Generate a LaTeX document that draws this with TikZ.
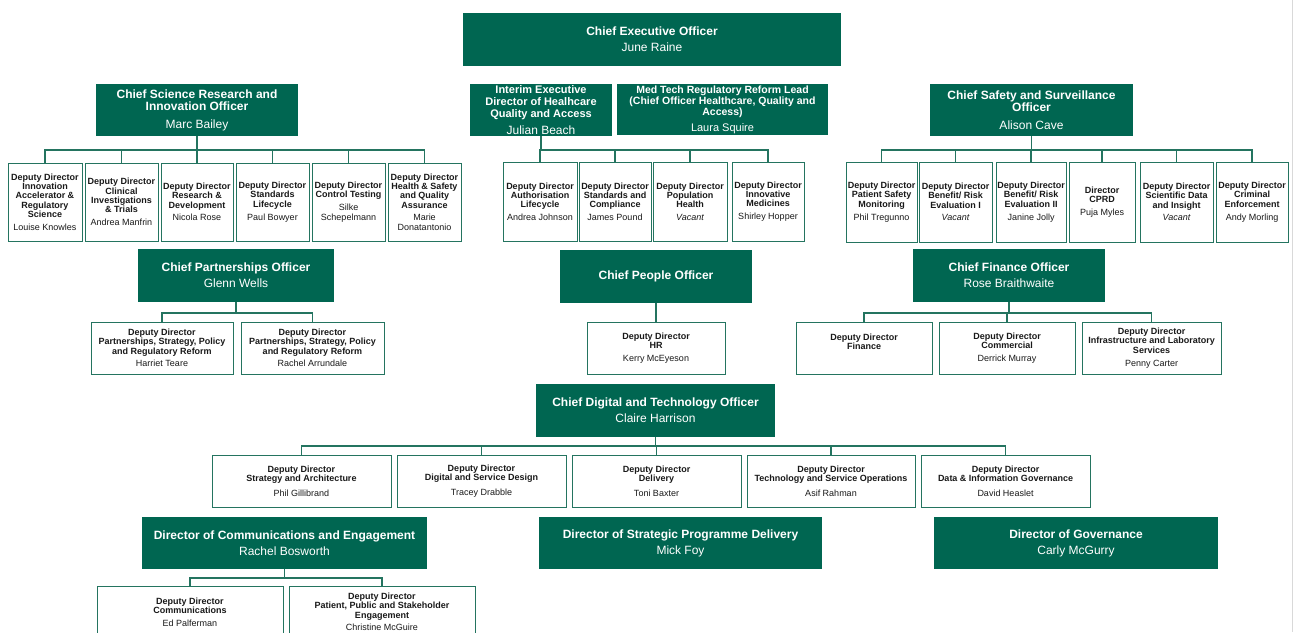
\documentclass[tikz,border=0pt]{standalone}
\usepackage{fontspec}
\setmainfont{Liberation Sans}
\definecolor{mhragreen}{RGB}{0,102,81}
\definecolor{mhraline}{RGB}{36,116,96}
\tikzstyle{chief} = [rectangle, fill=mhragreen, text=white, align=center, inner sep=0pt, font=\fontsize{12}{12}\selectfont\bfseries]
\tikzstyle{deputy} = [rectangle, draw=mhraline, line width=0.8pt, fill=white, text=black!90, align=center, inner sep=0pt, font=\fontsize{9}{9.3}\selectfont\bfseries]
\tikzstyle{link} = [draw=mhraline, line width=1.6pt]

\begin{document}
\begin{tikzpicture}[x=1pt, y=-1pt]
		\useasboundingbox (0,0) rectangle (1295,632);
		\clip (0,0) rectangle (1295,632);
		\draw [black!15, line width=0.8pt] (1292,0) -- (1292,632);
		% top level
		\node(ceo) [chief, minimum width=378pt, minimum height=53pt] at (652,39.5) {Chief Executive Officer\\[4pt]\mdseries June Raine};
		\node(csr) [chief, minimum width=202pt, minimum height=52pt] at (197,110) {Chief Science Research and\\Innovation Officer\\[6pt]\mdseries Marc Bailey};
		\node(int) [chief, minimum width=142pt, minimum height=52pt, font=\fontsize{11}{12}\selectfont\bfseries] at (541,110) {Interim Executive\\Director of Healhcare\\Quality and Access\\[5pt]\mdseries\fontsize{12}{12}\selectfont Julian Beach};
		\node(med) [chief, minimum width=211pt, minimum height=51pt, font=\fontsize{10.5}{11}\selectfont\bfseries] at (722.5,109.5) {Med Tech Regulatory Reform Lead\\(Chief Officer Healthcare, Quality and\\Access)\\[5pt]\mdseries\fontsize{11}{11}\selectfont Laura Squire};
		\node(css) [chief, minimum width=203pt, minimum height=52pt] at (1031.5,110) {Chief Safety and Surveillance\\Officer\\[6pt]\mdseries Alison Cave};
		% science deputies
		\node(d1) [deputy, minimum width=74pt, minimum height=78pt] at (45,202) {Deputy Director\\Innovation\\Accelerator \&\\Regulatory\\Science\\[3.5pt]\mdseries Louise Knowles};
		\node(d2) [deputy, minimum width=73pt, minimum height=78pt] at (121.5,202) {Deputy Director\\Clinical\\Investigations\\\& Trials\\[3.5pt]\mdseries Andrea Manfrin};
		\node(d3) [deputy, minimum width=72pt, minimum height=78pt] at (197,202) {Deputy Director\\Research \&\\Development\\[3.5pt]\mdseries Nicola Rose};
		\node(d4) [deputy, minimum width=73pt, minimum height=78pt] at (272.5,202) {Deputy Director\\Standards\\Lifecycle\\[3.5pt]\mdseries Paul Bowyer};
		\node(d5) [deputy, minimum width=73pt, minimum height=78pt] at (348.5,202) {Deputy Director\\Control Testing\\[3.5pt]\mdseries Silke\\\mdseries Schepelmann};
		\node(d6) [deputy, minimum width=73pt, minimum height=78pt] at (424.5,202) {Deputy Director\\Health \& Safety\\and Quality\\Assurance\\[3.5pt]\mdseries Marie\\\mdseries Donatantonio};
		% healthcare deputies
		\node(h1) [deputy, minimum width=74pt, minimum height=79pt] at (540,201.5) {Deputy Director\\Authorisation\\Lifecycle\\[3.5pt]\mdseries Andrea Johnson};
		\node(h2) [deputy, minimum width=72pt, minimum height=79pt] at (615,201.5) {Deputy Director\\Standards and\\Compliance\\[3.5pt]\mdseries James Pound};
		\node(h3) [deputy, minimum width=74pt, minimum height=79pt] at (690,201.5) {Deputy Director\\Population\\Health\\[3.5pt]\mdseries\itshape Vacant};
		\node(h4) [deputy, minimum width=72pt, minimum height=79pt] at (768,201.5) {Deputy Director\\Innovative\\Medicines\\[3.5pt]\mdseries Shirley Hopper};
		% safety deputies
		\node(s1) [deputy, minimum width=71pt, minimum height=80pt] at (881.5,202) {Deputy Director\\Patient Safety\\Monitoring\\[3.5pt]\mdseries Phil Tregunno};
		\node(s2) [deputy, minimum width=73pt, minimum height=80pt] at (955.5,202) {Deputy Director\\Benefit/ Risk\\Evaluation I\\[3.5pt]\mdseries\itshape Vacant};
		\node(s3) [deputy, minimum width=70pt, minimum height=80pt] at (1031,202) {Deputy Director\\Benefit/ Risk\\Evaluation II\\[3.5pt]\mdseries Janine Jolly};
		\node(s4) [deputy, minimum width=66pt, minimum height=80pt] at (1102,202) {Director\\CPRD\\[3.5pt]\mdseries Puja Myles};
		\node(s5) [deputy, minimum width=73pt, minimum height=80pt] at (1176.5,202) {Deputy Director\\Scientific Data\\and Insight\\[3.5pt]\mdseries\itshape Vacant};
		\node(s6) [deputy, minimum width=72pt, minimum height=80pt] at (1252,202) {Deputy Director\\Criminal\\Enforcement\\[3.5pt]\mdseries Andy Morling};
		% second row
		\node(cpo) [chief, minimum width=196pt, minimum height=53pt] at (236,275.5) {Chief Partnerships Officer\\[4pt]\mdseries Glenn Wells};
		\node(peo) [chief, minimum width=192pt, minimum height=53pt] at (656,276.5) {Chief People Officer};
		\node(cfo) [chief, minimum width=192pt, minimum height=53pt] at (1009,275.5) {Chief Finance Officer\\[4pt]\mdseries Rose Braithwaite};
		\node(p1) [deputy, minimum width=142pt, minimum height=52pt] at (162,348) {Deputy Director\\Partnerships, Strategy, Policy\\and Regulatory Reform\\[3.5pt]\mdseries Harriet Teare};
		\node(p2) [deputy, minimum width=143pt, minimum height=52pt] at (312.5,348) {Deputy Director\\Partnerships, Strategy, Policy\\and Regulatory Reform\\[3.5pt]\mdseries Rachel Arrundale};
		\node(hr) [deputy, minimum width=138pt, minimum height=52pt] at (656,348) {Deputy Director\\HR\\[3pt]\mdseries Kerry McEyeson};
		\node(f1) [deputy, minimum width=136pt, minimum height=52pt] at (864,348) {Deputy Director\\Finance\\[3pt]\mbox{}};
		\node(f2) [deputy, minimum width=136pt, minimum height=52pt] at (1007,348) {Deputy Director\\Commercial\\[3pt]\mdseries Derrick Murray};
		\node(f3) [deputy, minimum width=139pt, minimum height=52pt] at (1151.5,348) {Deputy Director\\Infrastructure and Laboratory\\Services\\[3.5pt]\mdseries Penny Carter};
		% digital
		\node(cdo) [chief, minimum width=239pt, minimum height=53pt] at (655.5,410.5) {Chief Digital and Technology Officer\\[4pt]\mdseries Claire Harrison};
		\node(t1) [deputy, minimum width=179pt, minimum height=52pt] at (301.5,481) {Deputy Director\\Strategy and Architecture\\[5pt]\mdseries Phil Gillibrand};
		\node(t2) [deputy, minimum width=169pt, minimum height=52pt] at (481.5,481) {Deputy Director\\Digital and Service Design\\[5pt]\mdseries Tracey Drabble};
		\node(t3) [deputy, minimum width=169pt, minimum height=52pt] at (656.5,481) {Deputy Director\\Delivery\\[5pt]\mdseries Toni Baxter};
		\node(t4) [deputy, minimum width=168pt, minimum height=52pt] at (831,481) {Deputy Director\\Technology and Service Operations\\[5pt]\mdseries Asif Rahman};
		\node(t5) [deputy, minimum width=169pt, minimum height=52pt] at (1005.5,481) {Deputy Director\\Data \& Information Governance\\[5pt]\mdseries David Heaslet};
		% bottom row
		\node(dce) [chief, minimum width=285pt, minimum height=52pt] at (284.5,543) {Director of Communications and Engagement\\[4pt]\mdseries Rachel Bosworth};
		\node(spd) [chief, minimum width=283pt, minimum height=52pt] at (680.5,543) {Director of Strategic Programme Delivery\\[4pt]\mdseries Mick Foy};
		\node(gov) [chief, minimum width=284pt, minimum height=52pt] at (1076,543) {Director of Governance\\[4pt]\mdseries Carly McGurry};
		\node(c1) [deputy, minimum width=186pt, minimum height=52pt] at (190,612) {Deputy Director\\Communications\\[3.5pt]\mdseries Ed Palferman};
		\node(c2) [deputy, minimum width=186pt, minimum height=52pt] at (382,612) {Deputy Director\\Patient, Public and Stakeholder\\Engagement\\[3.5pt]\mdseries Christine McGuire};
		% connectors
		\coordinate (csrbar) at (197,150);
		\coordinate (intbar) at (541,150);
		\coordinate (cssbar) at (1031.5,150);
		\coordinate (cpobar) at (236,313);
		\coordinate (cfobar) at (1009,313);
		\coordinate (cdobar) at (655.5,446);
		\coordinate (dcebar) at (284.5,578);
		\draw [link] (csr.south) -- (csrbar);
		\foreach \n in {d1,d2,d3,d4,d5,d6} \draw [link] (\n.north) |- (csrbar);
		\draw [link] (int.south) -- (intbar);
		\foreach \n in {h1,h2,h3,h4} \draw [link] (\n.north) |- (intbar);
		\draw [link] (css.south) -- (cssbar);
		\foreach \n in {s1,s2,s3,s4,s5,s6} \draw [link] (\n.north) |- (cssbar);
		\draw [link] (cpo.south) -- (cpobar);
		\foreach \n in {p1,p2} \draw [link] (\n.north) |- (cpobar);
		\draw [link] (peo.south) -- (hr.north);
		\draw [link] (cfo.south) -- (cfobar);
		\foreach \n in {f1,f2,f3} \draw [link] (\n.north) |- (cfobar);
		\draw [link] (cdo.south) -- (cdobar);
		\foreach \n in {t1,t2,t3,t4,t5} \draw [link] (\n.north) |- (cdobar);
		\draw [link] (dce.south) -- (dcebar);
		\foreach \n in {c1,c2} \draw [link] (\n.north) |- (dcebar);
	\end{tikzpicture}
\end{document}
